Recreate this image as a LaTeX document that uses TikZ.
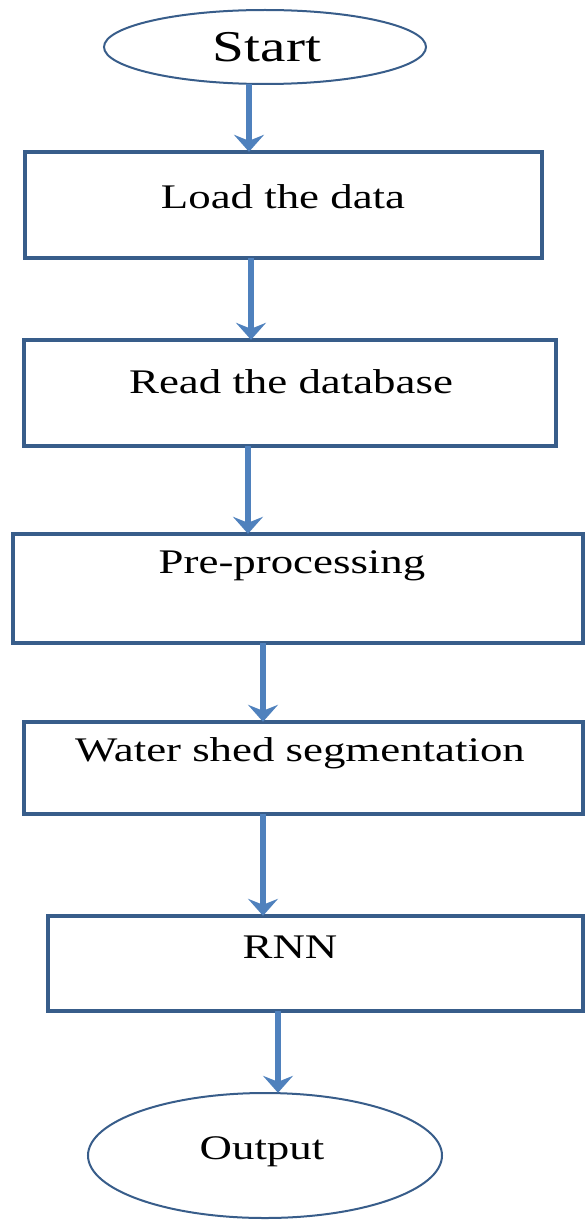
\documentclass[tikz,border=0pt]{standalone}
\usepackage{fontspec}
\setmainfont{Liberation Serif}
\usetikzlibrary{arrows.meta}
\definecolor{boxline}{RGB}{56,93,138}
\definecolor{flowblue}{RGB}{79,129,189}
\tikzset{
  stepbox/.style={draw=boxline, line width=4pt, fill=white},
  endcap/.style={draw=boxline, line width=2pt, fill=white},
  lbl/.style={anchor=base, inner sep=0pt, xscale=1.3,
    font=\fontsize{34.5}{40}\selectfont},
  flow/.style={draw=flowblue, line width=5.5pt,
    -{Stealth[length=17pt, width=30pt, inset=6pt]}},
}
\begin{document}
\begin{tikzpicture}[x=1pt, y=-1pt]
  \useasboundingbox (0,0) rectangle (584,1220);

  % terminals
  \draw[endcap] (265,47) ellipse [x radius=161, y radius=37];
  \coordinate (start) at (265,47);
  \node[draw=none, minimum width=322pt, minimum height=74pt, inner sep=0pt] (startshape) at (265,47) {};
  \draw[endcap] (265,1155.5) ellipse [x radius=177, y radius=62.5];
  \node[draw=none, minimum width=354pt, minimum height=125pt, inner sep=0pt] (outshape) at (265,1155.5) {};

  % process boxes
  \draw[stepbox] (25,152) rectangle (542,258);
  \node[minimum width=517pt, minimum height=106pt, inner sep=0pt] (b1) at (283.5,205) {};
  \draw[stepbox] (24,340) rectangle (556,446);
  \node[minimum width=532pt, minimum height=106pt, inner sep=0pt] (b2) at (290,393) {};
  \draw[stepbox] (13,534) rectangle (583,643);
  \node[minimum width=570pt, minimum height=109pt, inner sep=0pt] (b3) at (298,588.5) {};
  \draw[stepbox] (24,722) rectangle (583,814);
  \node[minimum width=559pt, minimum height=92pt, inner sep=0pt] (b4) at (303.5,768) {};
  \draw[stepbox] (48,916) rectangle (583,1011);
  \node[minimum width=535pt, minimum height=95pt, inner sep=0pt] (b5) at (315.5,963.5) {};

  % labels
  \node[lbl, font=\fontsize{44}{50}\selectfont] (tstart) at (267,61.5) {Start};
  \node[lbl] (t1) at (283,208) {Load the data};
  \node[lbl] (t2) at (291,393) {Read the database};
  \node[lbl] (t3) at (292,573) {Pre-processing};
  \node[lbl] (t4) at (300,761) {Water shed segmentation};
  \node[lbl] (t5) at (290,958) {RNN};
  \node[lbl] (t6) at (262,1159) {Output};

  % arrow columns
  \coordinate (c1) at (249,0);
  \coordinate (c2) at (251,0);
  \coordinate (c3) at (248,0);
  \coordinate (c4) at (263,0);
  \coordinate (c5) at (263,0);
  \coordinate (c6) at (278,0);

  % connectors
  \draw[flow] (startshape.south -| c1) -- (b1.north -| c1);
  \draw[flow] (b1.south -| c2) -- (b2.north -| c2);
  \draw[flow] (b2.south -| c3) -- (b3.north -| c3);
  \draw[flow] (b3.south -| c4) -- (b4.north -| c4);
  \draw[flow] (b4.south -| c5) -- (b5.north -| c5);
  \draw[flow] (b5.south -| c6) -- (outshape.north -| c6);
\end{tikzpicture}
\end{document}
